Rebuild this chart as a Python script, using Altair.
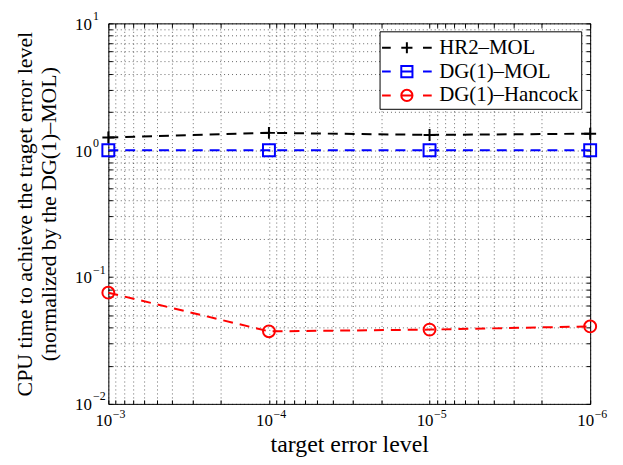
import altair as alt
import pandas as pd

# ---- data ----
levels = [1e-3, 1e-4, 1e-5, 1e-6]
series_names = ["HR2–MOL", "DG(1)–MOL", "DG(1)–Hancock"]
hr2_mol = [1.26, 1.37, 1.32, 1.35]
dg1_mol = [1.0, 1.0, 1.0, 1.0]
dg1_hancock = [0.0753, 0.0373, 0.0385, 0.0408]
colors = ["#000000", "#0000ff", "#ff0000"]

x_decades = [1e-3, 1e-4, 1e-5, 1e-6]
y_decades = [1e-2, 1e-1, 1.0, 10.0]

rows = []
for name, vals in zip(series_names, [hr2_mol, dg1_mol, dg1_hancock]):
    for lv, v in zip(levels, vals):
        rows.append({"level": lv, "value": v, "series": name})
df = pd.DataFrame(rows)

x_grid = [k * 10.0 ** e for e in range(-6, -3) for k in range(1, 10)] + [1e-3]
y_grid = [k * 10.0 ** e for e in range(-2, 1) for k in range(1, 10)] + [10.0]

font = "Liberation Serif, Times New Roman, Times, DejaVu Serif, serif"

X_scale = alt.Scale(type="log", domain=[1e-6, 1e-3], reverse=True, nice=False)
Y_scale = alt.Scale(type="log", domain=[0.01, 10], nice=False)

marker_shapes = ["M-1,0H1M0,-1V1", "square", "circle"]
legend_shapes = [
    "M-2,0H-1.3M1.3,0H2M-0.45,0H0.45M0,-0.45V0.45",
    "M-2,0H-1.3M1.3,0H2M-0.45,-0.45H0.45V0.45H-0.45ZM-0.45,0H0.45",
    "M-2,0H-1.3M1.3,0H2M-0.45,0A0.45,0.45,0,1,1,0.45,0A0.45,0.45,0,1,1,-0.45,0M-0.45,0H0.45",
]

exp_expr = ("round(log(datum.value)/LN10) < 0 ? '\u2212' + abs(round(log(datum.value)/LN10))"
            " : '' + round(log(datum.value)/LN10)")

base = alt.Chart(df)

def cscale():
    return alt.Scale(domain=series_names, range=colors)

# grid layer + dashed lines
grid_x = alt.Axis(values=x_grid, orient="bottom", grid=True, gridDash=[1, 3], gridColor="#000000",
                  gridOpacity=0.6, labels=False, ticks=False, domain=False)
grid_y = alt.Axis(values=y_grid, orient="left", grid=True, gridDash=[1, 3], gridColor="#000000",
                  gridOpacity=0.6, labels=False, ticks=False, domain=False)
lines = base.mark_line(strokeDash=[10, 7], strokeWidth=2).encode(
    x=alt.X("level:Q", scale=X_scale, axis=grid_x, title=None),
    y=alt.Y("value:Q", scale=Y_scale, axis=grid_y, title=None),
    color=alt.Color("series:N", scale=cscale(), legend=None),
)

# markers + main labels "10"
lab_x = alt.Axis(values=x_decades, orient="bottom", labelExpr="'10'", labelFontSize=17, labelOffset=-5,
                 labelPadding=9, labelFlush=False, labelOverlap=False, ticks=False, tickSize=0,
                 domain=False, grid=False, titleFontSize=24, titleY=48, titleBaseline="alphabetic")
lab_y = alt.Axis(values=y_decades, orient="left", labelExpr="'10'", labelFontSize=17, labelOffset=1,
                 labelPadding=17, labelFlush=False, labelOverlap=False, ticks=False, tickSize=0,
                 domain=False, grid=False,
                 titleFontSize=22, titleLineHeight=24, titleX=-72, titleBaseline="bottom")
points = base.mark_point(filled=False, size=144, strokeWidth=2, opacity=1).encode(
    x=alt.X("level:Q", scale=X_scale, axis=lab_x, title="target error level"),
    y=alt.Y("value:Q", scale=Y_scale, axis=lab_y,
            title=["CPU time to achieve the traget error level", "(normalized by the DG(1)–MOL)"]),
    color=alt.Color("series:N", scale=cscale(), legend=None),
    shape=alt.Shape("series:N", scale=alt.Scale(domain=series_names, range=marker_shapes), legend=None),
)

# legend layer (no marks drawn) + exponent labels
exp_x = alt.Axis(values=x_decades, orient="bottom", labelExpr=exp_expr, labelFontSize=12, labelAlign="left",
                 labelOffset=4, labelPadding=5, labelFlush=False, labelOverlap=False, ticks=False,
                 tickSize=0, domain=False, grid=False)
exp_y = alt.Axis(values=y_decades, orient="left", labelExpr=exp_expr, labelFontSize=12, labelAlign="left",
                 labelOffset=-8, labelPadding=16, labelFlush=False, labelOverlap=False, ticks=False,
                 tickSize=0, domain=False, grid=False)
leg = alt.Legend(title=None, orient="none", legendX=273, legendY=8, fillColor="white", strokeColor="black",
                 padding=3, symbolSize=625, symbolStrokeWidth=2, symbolOffset=11, labelOffset=19,
                 labelFont=font, labelFontSize=21, labelColor="black", rowPadding=0, symbolOpacity=1,
                 cornerRadius=0)
legend_layer = base.transform_filter("false").mark_point(filled=False, opacity=1, strokeWidth=2).encode(
    x=alt.X("level:Q", scale=X_scale, axis=exp_x, title=None),
    y=alt.Y("value:Q", scale=Y_scale, axis=exp_y, title=None),
    color=alt.Color("series:N", scale=cscale(), legend=leg),
    shape=alt.Shape("series:N", scale=alt.Scale(domain=series_names, range=legend_shapes), legend=leg),
)

# inner ticks on all four sides
def tick_axis(vals, orient):
    return alt.Axis(values=vals, orient=orient, offset=-4, tickSize=4, ticks=True, tickColor="black",
                    labels=False, domain=False, grid=False)

ticks_bl = base.transform_filter("false").mark_point().encode(
    x=alt.X("level:Q", scale=X_scale, axis=tick_axis(x_grid, "bottom"), title=None),
    y=alt.Y("value:Q", scale=Y_scale, axis=tick_axis(y_grid, "left"), title=None),
)
ticks_tr = base.transform_filter("false").mark_point().encode(
    x=alt.X("level:Q", scale=X_scale, axis=tick_axis(x_grid, "top"), title=None),
    y=alt.Y("value:Q", scale=Y_scale, axis=tick_axis(y_grid, "right"), title=None),
)

chart = alt.layer(lines, points, legend_layer, ticks_bl, ticks_tr).resolve_scale(
    color="independent", shape="independent"
).resolve_axis(
    x="independent", y="independent"
).properties(
    width=485, height=383,
    autosize=alt.AutoSizeParams(type="none"),
    padding={"left": 101, "top": 14, "right": 25, "bottom": 52},
    background="white",
).configure_view(
    stroke="black", strokeWidth=1
).configure_axis(
    labelFont=font, titleFont=font, labelColor="black", titleColor="black", titleFontWeight="normal"
).configure_legend(
    labelFont=font
)

chart.save("out.html", embed_options={"renderer": "svg", "actions": False})
